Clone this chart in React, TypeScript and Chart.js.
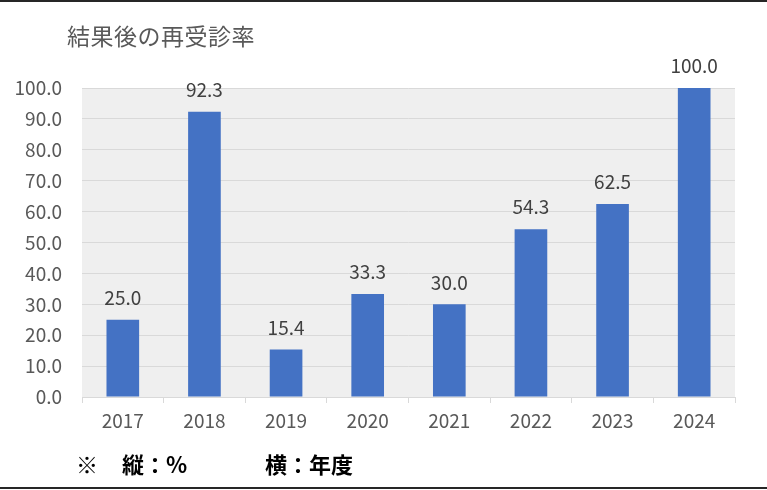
import React, { useEffect, useRef } from "react";
import { Chart, registerables } from "chart.js";

Chart.register(...registerables);

const years = ["2017", "2018", "2019", "2020", "2021", "2022", "2023", "2024"];
const rates = [25.0, 92.3, 15.4, 33.3, 30.0, 54.3, 62.5, 100.0];
const yMin = 0;
const yMax = 100;
const yStep = 10;

const FONT = '"Noto Sans CJK JP", "Noto Sans", sans-serif';

const plotBg = {
  id: "plotBg",
  beforeDraw(chart: any) {
    const { ctx, chartArea } = chart;
    ctx.save();
    ctx.fillStyle = "#efefef";
    ctx.fillRect(chartArea.left, chartArea.top, chartArea.right - chartArea.left, chartArea.bottom - chartArea.top);
    ctx.restore();
  },
};

const dataLabels = {
  id: "dataLabels",
  afterDatasetsDraw(chart: any) {
    const { ctx } = chart;
    const meta = chart.getDatasetMeta(0);
    ctx.save();
    ctx.font = `19px ${FONT}`;
    ctx.fillStyle = "#404040";
    ctx.textAlign = "center";
    ctx.textBaseline = "middle";
    meta.data.forEach((el: any, i: number) => {
      const v = chart.data.datasets[0].data[i] as number;
      ctx.fillText(v.toFixed(1), el.x, el.y - 22);
    });
    ctx.restore();
  },
};

export default function App() {
  const ref = useRef<HTMLCanvasElement>(null);
  useEffect(() => {
    if (!ref.current) return;
    const chart = new Chart(ref.current, {
      type: "bar",
      data: {
        labels: years,
        datasets: [
          {
            data: rates,
            backgroundColor: "#4472C4",
            barPercentage: 0.4,
            categoryPercentage: 1,
          },
        ],
      },
      options: {
        animation: false,
        responsive: false,
        layout: { padding: { top: 88, right: 32, bottom: 0, left: 0 } },
        plugins: {
          legend: { display: false },
          title: { display: false },
          tooltip: { enabled: false },
        },
        scales: {
          x: {
            grid: {
              display: true,
              drawOnChartArea: false,
              drawTicks: true,
              tickLength: 6,
              color: "#d9d9d9",
            },
            border: { display: true, color: "#d9d9d9" },
            ticks: {
              color: "#595959",
              font: { family: FONT, size: 19 },
              padding: 6,
            },
            afterFit(scale: any) {
              scale.height = 93;
            },
          },
          y: {
            min: yMin,
            max: yMax,
            ticks: {
              stepSize: yStep,
              color: "#595959",
              font: { family: FONT, size: 19 },
              padding: 20,
              callback: (v: any) => Number(v).toFixed(1),
            },
            grid: { color: "#d9d9d9", drawTicks: false },
            border: { display: false },
            afterFit(scale: any) {
              scale.width = 82;
            },
          },
        },
      },
      plugins: [plotBg, dataLabels],
    });
    return () => chart.destroy();
  }, []);

  return (
    <div
      style={{
        position: "absolute",
        left: 0,
        top: 0,
        width: 767,
        height: 490,
        background: "#ffffff",
        fontFamily: FONT,
        overflow: "hidden",
      }}
    >
      <canvas ref={ref} width={767} height={490} style={{ position: "absolute", left: 0, top: 0 }} />
      <div style={{ position: "absolute", left: 0, top: 0, width: 767, height: 2, background: "#262626" }} />
      <div style={{ position: "absolute", left: 0, top: 487, width: 767, height: 2, background: "#262626" }} />
      <div
        style={{
          position: "absolute",
          left: 67,
          top: 19,
          fontSize: 23,
          lineHeight: "32px",
          color: "#595959",
          whiteSpace: "nowrap",
          letterSpacing: 0.5,
        }}
      >
        結果後の再受診率
      </div>
      <div style={{ position: "absolute", left: 76, top: 447, fontSize: 22, lineHeight: "32px", fontWeight: 700, color: "#000", whiteSpace: "nowrap" }}>
        ※
      </div>
      <div style={{ position: "absolute", left: 122, top: 447, fontSize: 22, lineHeight: "32px", fontWeight: 700, color: "#000", whiteSpace: "nowrap" }}>
        縦：%
      </div>
      <div style={{ position: "absolute", left: 265, top: 447, fontSize: 22, lineHeight: "32px", fontWeight: 700, color: "#000", whiteSpace: "nowrap" }}>
        横：年度
      </div>
    </div>
  );
}
